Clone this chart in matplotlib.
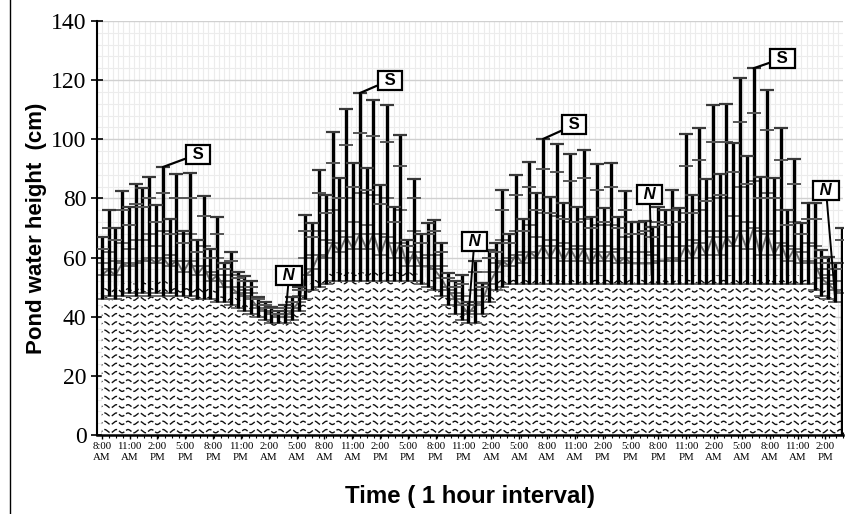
import numpy as np
import matplotlib
matplotlib.use("Agg")
import matplotlib.pyplot as plt

# ---------------- data ----------------
tick_text = (["8:00\nAM", "11:00\nAM", "2:00\nPM", "5:00\nPM",
              "8:00\nPM", "11:00\nPM", "2:00\nAM", "5:00\nAM"] * 3
             + ["8:00\nAM", "11:00\nAM", "2:00\nPM"])

# water level (area)
base = [50, 51, 50, 51, 52, 51, 52, 52, 52, 52, 52, 51, 51, 51, 50, 50, 49, 49, 48, 47,
        46, 45, 44, 42, 41, 40, 39, 39, 41, 44, 49, 52, 53, 54, 55, 55, 55, 55, 55, 55,
        55, 55, 55, 55, 55, 55, 55, 54, 53, 52, 50, 47, 44, 41, 40, 40, 43, 48, 52, 53,
        54, 54, 54, 54, 54, 54, 54, 54, 54, 54, 54, 54, 54, 54, 54, 54, 54, 54, 54, 54,
        54, 54, 54, 54, 54, 54, 54, 54, 54, 54, 54, 54, 54, 54, 54, 54, 54, 54, 54, 54,
        54, 54, 54, 54, 54, 52, 50, 48, 47, 0]

# lowest readings (bottom of the spikes)
low = [46, 47, 46, 47, 48, 47, 48, 47, 48, 47, 48, 47, 47, 47, 46, 46, 46, 45, 45, 44,
       43, 42, 41, 40, 39, 38, 38, 38, 39, 42, 46, 49, 50, 51, 52, 52, 52, 52, 52, 52,
       52, 52, 52, 52, 52, 52, 52, 51, 50, 49, 47, 44, 41, 39, 38, 38, 41, 45, 49, 50,
       51, 51, 51, 51, 51, 51, 51, 51, 51, 51, 51, 51, 51, 51, 51, 51, 51, 51, 51, 51,
       51, 51, 51, 51, 51, 51, 51, 51, 51, 51, 51, 51, 51, 51, 51, 51, 51, 51, 51, 51,
       51, 51, 51, 51, 51, 49, 47, 46, 45, 0]

# maximum heights (spikes)
high = [67, 76, 70, 82.6, 77, 85, 83.6, 87.4, 77.8, 90.6, 73, 88.3, 69, 88.6, 66, 80.8, 63, 73.8, 58, 62,
        55, 53.8, 52, 46.8, 45, 43.4, 42, 44, 46.8, 50, 74.4, 71.7, 89.6, 81.2, 102.6, 86.8, 110.1, 91.9, 115.6, 90.2,
        113.3, 84.5, 111.6, 77.2, 101.4, 66, 86.6, 68, 71.6, 72.7, 65, 54.7, 52, 54, 45, 59, 51.4, 62.6, 65, 83,
        68, 88, 73, 92.3, 81.8, 100.1, 80.6, 98.4, 78.4, 94.9, 77.2, 96.4, 73.8, 91.5, 76.6, 92, 73.8, 82.6, 72.1, 72,
        72.5, 70.4, 77, 76, 82.8, 76.6, 101.7, 81.2, 103.7, 86.5, 111.6, 88.3, 111.9, 98.6, 120.6, 94.3, 124, 87.4, 116.7, 86.8,
        103.7, 76, 93.2, 71.6, 78.4, 78.4, 62.6, 60.3, 58, 70]

cap_upper = [63, 70, 66, 76, 71, 78, 77, 80, 72, 82, 68, 80, 65, 80, 62, 74, 60, 68, 56, 59,
             53, 52, 50, 46, 44, 43, 41, 43, 45, 49, 69, 67, 82, 75, 92, 80, 98, 84, 102, 83,
             101, 78, 99, 72, 91, 64, 80, 65, 68, 69, 62, 53, 50, 51, 44, 55, 50, 60, 62, 76,
             65, 81, 69, 84, 76, 90, 75, 89, 73, 86, 72, 87, 70, 83, 72, 84, 70, 76, 68, 68,
             69, 67, 72, 71, 76, 72, 91, 75, 93, 79, 99, 81, 99, 89, 106, 85, 109, 80, 103, 80,
             93, 71, 85, 68, 73, 73, 60, 58, 56, 66]

cap_lower = [58, 62, 59, 65, 63, 66, 66, 68, 64, 69, 61, 68, 59, 68, 57, 64, 55, 60, 52, 54,
             50, 49, 48, 44, 43, 42, 40, 41, 43, 47, 60, 61, 69, 66, 76, 69, 80, 72, 82, 71,
             81, 68, 80, 65, 76, 60, 69, 60, 61, 61, 57, 50, 48, 47, 42, 49, 47, 55, 58, 66,
             60, 69, 62, 71, 67, 75, 66, 74, 65, 72, 64, 73, 63, 71, 64, 71, 63, 67, 62, 62,
             62, 61, 64, 64, 67, 64, 75, 66, 76, 69, 80, 69, 80, 74, 84, 72, 86, 69, 82, 69,
             76, 64, 72, 62, 65, 64, 56, 54, 52, 58]

mean_level = [54, 56, 54, 58, 57, 58, 59, 60, 58, 60, 57, 59, 55, 59, 54, 57, 52, 54, 50, 50,
              48, 47, 46, 43, 42, 41, 40, 40, 42, 45, 54, 56, 61, 60, 65, 62, 67, 63, 68, 63,
              68, 61, 67, 60, 65, 57, 62, 57, 57, 56, 53, 49, 46, 44, 41, 44, 45, 51, 55, 59,
              57, 61, 58, 62, 60, 64, 60, 64, 59, 63, 59, 63, 58, 62, 59, 62, 58, 60, 58, 58,
              58, 58, 59, 59, 60, 59, 64, 60, 65, 61, 67, 61, 67, 64, 69, 63, 70, 61, 68, 61,
              65, 59, 63, 58, 59, 58, 53, 51, 49, 48]

s_marks = [9, 38, 65, 96]          # peaks labelled "S"
n_marks = [27, 54, 81, 108]        # lows labelled "N"

# ---------------- style / layout ----------------
label_step = 4.1
s_offsets = [(35, 13), (30, 13), (31, 14), (29, 10)]     # pixels (right, up)
n_offsets = [(4, 44), (6, 75), (-2, 81), (-9, 106)]

fig = plt.figure(figsize=(8.61, 5.14), dpi=100)
ax = fig.add_axes([97 / 861, 1 - 435 / 514, (843 - 97) / 861, (435 - 21) / 514])

x = np.arange(len(high))
ax.set_xlim(-0.7, len(high) - 0.9)
ax.set_ylim(0, 140)

# grid
ax.set_axisbelow(True)
ax.set_yticks(np.arange(0, 141, 20))
ax.set_yticks(np.arange(0, 141, 4), minor=True)
ax.grid(axis="y", which="major", color="#d0d0d0", lw=1.0, zorder=0)
ax.grid(axis="y", which="minor", color="#ececec", lw=0.8, zorder=0)
for xv in np.arange(-0.7, len(high), 0.78):
    ax.axvline(xv, color="#ececec", lw=0.8, zorder=0)

# area with wave pattern
area = ax.fill_between(x, 0, base, facecolor="white", edgecolor="none", zorder=1)
clip = area.get_paths()[0]
xs = np.linspace(-1, len(high), 6000)
for y0 in np.arange(1.3, 60, 2.8):
    ln, = ax.plot(xs, y0 + 0.55 * np.sin(2 * np.pi * xs / 1.72), color="#111111",
                  lw=1.0, dashes=(4.5, 1.6), zorder=1.5)
    ln.set_clip_path(clip, transform=ax.transData)

# grey mean line and caps
ax.plot(x, mean_level, color="#6e6e6e", lw=1.4, zorder=2)
ax.plot(x, mean_level, ls="none", marker="_", ms=10, mew=1.4, color="#707070", zorder=2.2)
ax.plot(x, cap_lower, ls="none", marker="_", ms=10, mew=1.4, color="#6a6a6a", zorder=2.3)
ax.plot(x, low, ls="none", marker="_", ms=10, mew=1.4, color="#6a6a6a", zorder=2.3)

# black spikes
ax.vlines(x, low, high, color="black", lw=2.4, zorder=3)
ax.plot(x, cap_upper, ls="none", marker="_", ms=10, mew=1.4, color="#555555", zorder=3.2)
ax.plot(x, high, ls="none", marker="_", ms=10, mew=1.6, color="#3a3a3a", zorder=3.3)

# axes styling
serif = ["Liberation Serif", "DejaVu Serif"]
ax.set_xticks(np.arange(len(tick_text)) * label_step)
ax.set_xticklabels(tick_text, fontsize=7.8, family=serif, linespacing=1.25)
ax.set_xticks(np.arange(0, len(high), 1.03), minor=True)
ax.tick_params(axis="x", which="major", direction="inout", length=6, width=1, pad=2)
ax.tick_params(axis="x", which="minor", direction="inout", length=4, width=0.8)
ax.tick_params(axis="y", which="major", direction="inout", length=9, width=1.2, pad=3)
ax.tick_params(axis="y", which="minor", length=0)
for t in ax.get_yticklabels():
    t.set_family(serif)
    t.set_fontsize(17)

for side in ("top", "right"):
    ax.spines[side].set_visible(False)
ax.spines["left"].set_linewidth(1.5)
ax.spines["bottom"].set_linewidth(1.8)

sans = ["Liberation Sans", "DejaVu Sans"]
ax.set_ylabel("Pond water height  (cm)", fontsize=16, fontweight="bold", family=sans, labelpad=3)
ax.set_xlabel("Time ( 1 hour interval)", fontsize=17.3, fontweight="bold", family=sans, labelpad=17)

# annotations
box = dict(boxstyle="square,pad=0.12", fc="white", ec="black", lw=1.6)
for idx, (dx, dy) in zip(s_marks, s_offsets):
    ax.annotate(" S ", xy=(idx, high[idx]), xytext=(dx * 0.72, dy * 0.72),
                textcoords="offset points", ha="center", va="center",
                fontsize=12, fontweight="bold", family=sans, bbox=box, zorder=6,
                arrowprops=dict(arrowstyle="-", color="black", lw=1.6, shrinkA=0, shrinkB=0))
for idx, (dx, dy) in zip(n_marks, n_offsets):
    ax.annotate(" N ", xy=(idx, base[idx]), xytext=(dx * 0.72, dy * 0.72),
                textcoords="offset points", ha="center", va="center",
                fontsize=12, fontweight="bold", fontstyle="italic", family=sans, bbox=box, zorder=6,
                arrowprops=dict(arrowstyle="-", color="black", lw=1.4, shrinkA=0, shrinkB=0))

# outer frame line on the left
fig.add_artist(plt.Line2D([10 / 861, 10 / 861], [0, 1], color="black", lw=1.0))

fig.savefig("out.png", dpi=100)
